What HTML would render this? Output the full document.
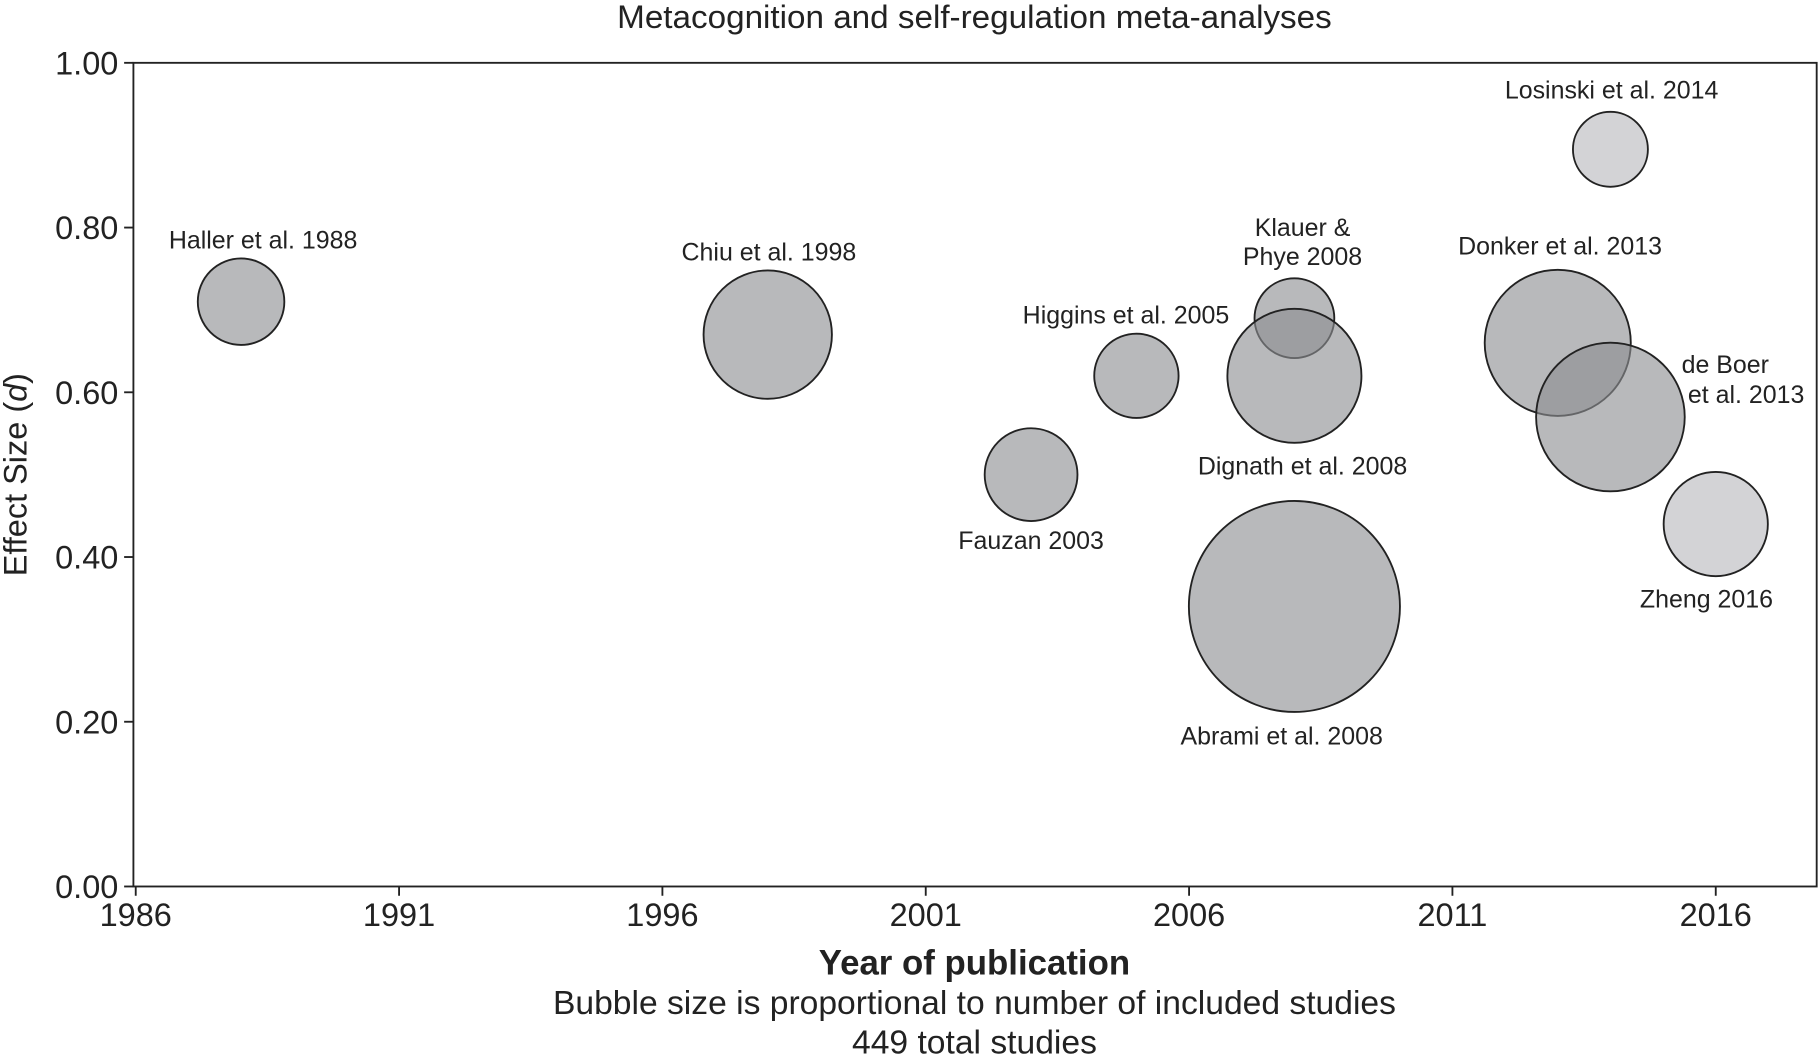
<!DOCTYPE html>
<html><head><meta charset="utf-8"><style>
html,body{margin:0;padding:0;background:#fff;}
svg{display:block;font-family:"Liberation Sans",Arial,sans-serif;}
</style></head><body>
<svg id="chart" width="1819" height="1063" viewBox="0 0 1568 916" xmlns="http://www.w3.org/2000/svg">
<text x="840" y="24" text-anchor="middle" font-size="28" fill="#222" textLength="616" lengthAdjust="spacingAndGlyphs">Metacognition and self-regulation meta-analyses</text>
<rect x="115" y="54" width="1451" height="710" fill="none" stroke="#222" stroke-width="1.6"/>
<g id="axes"></g>
<g id="bubbles"></g>
<g id="labels"></g>
<text x="840" y="840" text-anchor="middle" font-size="30" font-weight="bold" fill="#222">Year of publication</text>
<text x="840" y="874" text-anchor="middle" font-size="29" fill="#222">Bubble size is proportional to number of included studies</text>
<text x="840" y="908" text-anchor="middle" font-size="29" fill="#222">449 total studies</text>
<text transform="translate(23,409) rotate(-90)" text-anchor="middle" font-size="28" fill="#222">Effect Size (<tspan font-style="italic">d</tspan>)</text>
</svg>
<script>
const names = ["Haller et al. 1988","Chiu et al. 1998","Fauzan 2003","Higgins et al. 2005","Klauer & Phye 2008","Dignath et al. 2008","Abrami et al. 2008","Donker et al. 2013","de Boer et al. 2013","Losinski et al. 2014","Zheng 2016"];
const years = [1988,1998,2003,2005,2008,2008,2008,2013,2014,2014,2016];
const effects = [0.71,0.67,0.50,0.62,0.69,0.62,0.34,0.66,0.57,0.895,0.44];
const studies = [20,44,23,19,17,48,119,57,59,15,29];
const xTicks = [1986,1991,1996,2001,2006,2011,2016];
const yTicks = [0,0.2,0.4,0.6,0.8,1.0];
const yTickLabels = ["0.00","0.20","0.40","0.60","0.80","1.00"];
const labelLines = [["Haller et al. 1988"],["Chiu et al. 1998"],["Fauzan 2003"],["Higgins et al. 2005"],["Klauer &","Phye 2008"],["Dignath et al. 2008"],["Abrami et al. 2008"],["Donker et al. 2013"],["de Boer","et al. 2013"],["Losinski et al. 2014"],["Zheng 2016"]];
const labelOff = [[[19,-46]],[[1,-64]],[[0,64]],[[-9,-45]],[[7,-71],[7,-46]],[[7,85]],[[-11,119]],[[2,-76]],[[99,-38],[117,-12]],[[1,-44]],[[-8,72]]];
const light = [false,false,false,false,false,false,false,false,false,true,true];
const NS="http://www.w3.org/2000/svg";
const X = v => 117 + (v-1986)*45.4;
const Y = v => 764 - v*710;
const R = n => Math.sqrt(n)*8.34;
const axes=document.getElementById('axes');
function mk(tag,attrs,parent){const e=document.createElementNS(NS,tag);for(const k in attrs)e.setAttribute(k,attrs[k]);parent.appendChild(e);return e;}
xTicks.forEach((t,i)=>{
  const l=mk('line',{x1:X(t),x2:X(t),y1:764,y2:772,stroke:'#222','stroke-width':1.6},axes);
  
  
  const tx=mk('text',{x:X(t),y:798,'text-anchor':'middle','font-size':28,fill:'#222'},axes);
  tx.textContent=t;
  
  
});
yTicks.forEach((t,i)=>{
  const l=mk('line',{x1:107,x2:115,y1:Y(t),y2:Y(t),stroke:'#222','stroke-width':1.6},axes);
  
  
  const tx=mk('text',{x:102,y:Y(t)+10,'text-anchor':'end','font-size':28,fill:'#222'},axes);
  tx.textContent=yTickLabels[i];
  
  
});
const bg=document.getElementById('bubbles'), lg=document.getElementById('labels');
names.forEach((n,i)=>{
  const cx=X(years[i]), cy=Y(effects[i]);
  const c=mk('circle',{cx:cx,cy:cy,r:R(studies[i]),fill:light[i]?'rgba(198,199,202,0.78)':'rgba(140,142,146,0.62)',stroke:'#222','stroke-width':1.6},bg);
  
  
  labelLines[i].forEach((s,j)=>{
    const o=labelOff[i][j];
    const t=mk('text',{x:cx+o[0],y:cy+o[1],'text-anchor':'middle','font-size':21.5,fill:'#222'},lg);
    t.textContent=s;
    
    
  });
});
</script>
</body></html>
